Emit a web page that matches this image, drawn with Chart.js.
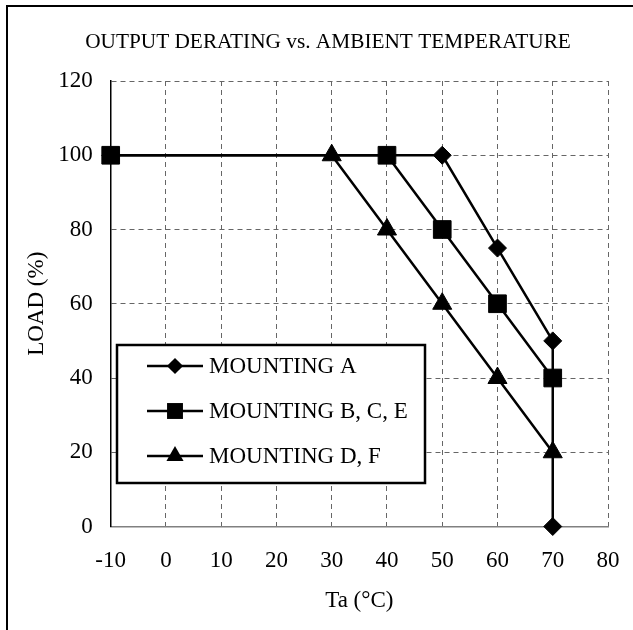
<!DOCTYPE html>
<html>
<head>
<meta charset="utf-8">
<script src="https://cdn.jsdelivr.net/npm/chart.js@4.4.0/dist/chart.umd.min.js"></script>
<style>
  html, body { margin: 0; padding: 0; background: #fff; }
  #wrap { position: relative; width: 633px; height: 630px; overflow: hidden; }
  #frame { position: absolute; left: 6px; top: 5px; width: 700px; height: 700px;
           border-left: 2px solid #000; border-top: 2px solid #000; pointer-events: none; }
  canvas { position: absolute; left: 0; top: 0; }
</style>
</head>
<body>
<div id="wrap">
  <canvas id="derating" width="633" height="630"></canvas>
  <div id="frame"></div>
</div>
<script>
// data
const seriesNames = ['MOUNTING A', 'MOUNTING B, C, E', 'MOUNTING D, F'];
const tempA = [-10, 50, 60, 70, 70];
const loadA = [100, 100, 75, 50, 0];
const tempB = [-10, 40, 50, 60, 70];
const loadB = [100, 100, 80, 60, 40];
const tempD = [30, 40, 50, 60, 70];
const loadD = [100, 80, 60, 40, 20];
const xTicks = [-10, 0, 10, 20, 30, 40, 50, 60, 70, 80];
const yTicks = [0, 20, 40, 60, 80, 100, 120];

const serif = "'Liberation Serif', 'Times New Roman', serif";
Chart.defaults.font.family = serif;
Chart.defaults.color = '#000';

function toPoints(xs, ys) {
  return xs.map((x, i) => ({ x: x, y: ys[i] }));
}

function drawMarker(ctx, style, x, y, r) {
  ctx.beginPath();
  if (style == 'rectRot') {
    ctx.moveTo(x, y - r); ctx.lineTo(x + r, y); ctx.lineTo(x, y + r); ctx.lineTo(x - r, y);
  } else if (style == 'rect') {
    let s = r * Math.SQRT1_2;
    ctx.rect(x - s, y - s, 2 * s, 2 * s);
  } else {
    ctx.moveTo(x, y - r);
    ctx.lineTo(x + r * 0.866, y + r * 0.5);
    ctx.lineTo(x - r * 0.866, y + r * 0.5);
  }
  ctx.closePath();
  ctx.fill();
}

const markerStyles = ['rectRot', 'rect', 'triangle'];
const markerSizes = [9, 12.5, 11];

// title over the plot
const titlePlugin = {
  id: 'titleText',
  afterDraw(chart) {
    const ctx = chart.ctx;
    ctx.save();
    ctx.font = '21.3px ' + serif;
    ctx.fillStyle = '#000';
    ctx.textAlign = 'center';
    ctx.textBaseline = 'alphabetic';
    ctx.fillText('OUTPUT DERATING vs. AMBIENT TEMPERATURE', 328, 48);
    ctx.restore();
  }
};

// boxed legend inside the plot, lower left
const legendBox = {
  id: 'legendBox',
  afterDatasetsDraw(chart) {
    const ctx = chart.ctx;
    const left = 117, top = 345, w = 308, h = 138;
    ctx.save();
    ctx.fillStyle = '#fff';
    ctx.fillRect(left, top, w, h);
    ctx.lineWidth = 2.5;
    ctx.strokeStyle = '#000';
    ctx.strokeRect(left, top, w, h);
    ctx.font = '23px ' + serif;
    ctx.textBaseline = 'middle';
    ctx.textAlign = 'left';
    seriesNames.forEach(function (name, i) {
      let y = 366 + i * 45;
      ctx.lineWidth = 2.5;
      ctx.beginPath();
      ctx.moveTo(147, y);
      ctx.lineTo(203, y);
      ctx.stroke();
      ctx.fillStyle = '#000';
      drawMarker(ctx, markerStyles[i], 175, y, markerSizes[i] * 0.9);
      ctx.fillText(name, 209, y + 1);
    });
    ctx.restore();
  }
};

function makeSet(i, xs, ys) {
  return {
    label: seriesNames[i],
    data: toPoints(xs, ys),
    clip: false,
    borderColor: '#000',
    backgroundColor: '#000',
    borderWidth: 2.5,
    tension: 0,
    pointStyle: markerStyles[i],
    pointRadius: markerSizes[i],
    pointHoverRadius: markerSizes[i],
    pointBorderWidth: 1,
    pointBorderColor: '#000',
    pointBackgroundColor: '#000'
  };
}

const ctx = document.getElementById('derating').getContext('2d');
new Chart(ctx, {
  type: 'line',
  data: {
    datasets: [
      makeSet(0, tempA, loadA),
      makeSet(1, tempB, loadB),
      makeSet(2, tempD, loadD)
    ]
  },
  options: {
    responsive: false,
    animation: false,
    layout: { padding: { left: 8, right: 25, top: 81, bottom: 8 } },
    plugins: {
      legend: { display: false },
      title: { display: false },
      tooltip: { enabled: false }
    },
    scales: {
      x: {
        type: 'linear',
        min: -10,
        max: 80,
        afterBuildTicks: function (scale) { scale.ticks = xTicks.map(v => ({ value: v })); },
        afterFit: function (scale) {
          scale.height = 95.5;
          scale.paddingLeft = 0;
          scale.paddingRight = 0;
        },
        grid: { color: '#666', lineWidth: 1, drawTicks: false },
        border: { display: true, color: '#808080', width: 1.5, dash: [5, 4] },
        ticks: { padding: 21, font: { size: 23 }, maxRotation: 0, autoSkip: false },
        title: { display: true, text: 'Ta (°C)', font: { size: 23 }, padding: { top: 0, bottom: 7 } }
      },
      y: {
        min: 0,
        max: 120,
        afterBuildTicks: function (scale) { scale.ticks = yTicks.map(v => ({ value: v })); },
        afterFit: function (scale) {
          scale.width = 102.7;
          scale.paddingTop = 0;
          scale.paddingBottom = 0;
        },
        grid: { color: '#666', lineWidth: 1, drawTicks: false },
        border: { display: true, color: '#000', width: 1.5, dash: [5, 4] },
        ticks: { padding: 18, font: { size: 23 }, autoSkip: false },
        title: { display: true, text: 'LOAD (%)', font: { size: 23 }, padding: { top: 15, bottom: 0 } }
      }
    }
  },
  plugins: [titlePlugin, legendBox]
});
</script>
</body>
</html>
